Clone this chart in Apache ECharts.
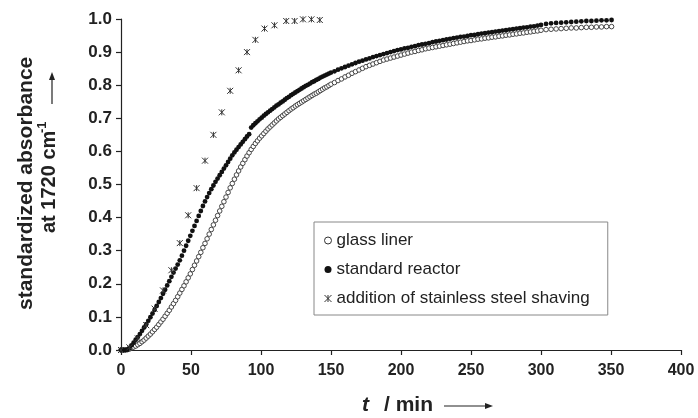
<!DOCTYPE html>
<html>
<head>
<meta charset="utf-8">
<script src="https://cdn.jsdelivr.net/npm/echarts@6/dist/echarts.min.js"></script>
<style>
  html, body { margin: 0; padding: 0; background: #fff; }
  #chart { width: 698px; height: 418px; }
</style>
</head>
<body>
<div id="chart"></div>
<script>
// ---- data ----
const time = [
  0,1.5,3,4.5,6,7.5,9,10.5,12,13.5,
  15,16.5,18,19.5,21,22.5,24,25.5,27,28.5,
  30,31.5,33,34.5,36,37.5,39,40.5,42,43.5,
  45,46.5,48,49.5,51,52.5,54,55.5,57,58.5,
  60,61.5,63,64.5,66,67.5,69,70.5,72,73.5,
  75,76.5,78,79.5,81,82.5,84,85.5,87,88.5,
  90,91.5,93,94.5,96,97.5,99,100.5,102,103.5,
  105,106.5,108,109.5,111,112.5,114,115.5,117,118.5,
  120,121.5,123,124.5,126,127.5,129,130.5,132,133.5,
  135,136.5,138,139.5,141,142.5,144,145.5,147,148.5,
  150,152.5,155,157.5,160,162.5,165,167.5,170,172.5,
  175,177.5,180,182.5,185,187.5,190,192.5,195,197.5,
  200,202.5,205,207.5,210,212.5,215,217.5,220,222.5,
  225,227.5,230,232.5,235,237.5,240,242.5,245,247.5,
  250,252.5,255,257.5,260,262.5,265,267.5,270,272.5,
  275,277.5,280,282.5,285,287.5,290,292.5,295,297.5,
  300,303.6,307.2,310.8,314.4,318,321.6,325.2,328.8,332.4,
  336,339.6,343.2,346.8,350.4
];
const glassLiner = [
  0,0,0,0.001,0.003,0.006,0.009,0.012,0.016,0.020,
  0.025,0.030,0.036,0.042,0.048,0.055,0.062,0.069,0.077,0.085,
  0.093,0.102,0.111,0.120,0.130,0.140,0.150,0.161,0.172,0.183,
  0.194,0.206,0.218,0.230,0.243,0.256,0.269,0.282,0.295,0.309,
  0.322,0.336,0.350,0.364,0.378,0.392,0.406,0.420,0.434,0.448,
  0.462,0.476,0.490,0.503,0.516,0.529,0.541,0.553,0.564,0.575,
  0.586,0.596,0.606,0.615,0.624,0.632,0.640,0.647,0.654,0.661,
  0.668,0.674,0.680,0.686,0.692,0.698,0.703,0.708,0.713,0.718,
  0.723,0.728,0.732,0.737,0.741,0.745,0.749,0.753,0.757,0.761,
  0.765,0.769,0.773,0.776,0.780,0.784,0.788,0.792,0.795,0.799,
  0.803,0.808,0.814,0.819,0.825,0.830,0.836,0.841,0.846,0.851,
  0.856,0.860,0.864,0.868,0.872,0.876,0.879,0.882,0.885,0.888,
  0.891,0.894,0.897,0.900,0.902,0.905,0.907,0.910,0.912,0.914,
  0.916,0.918,0.920,0.922,0.924,0.926,0.928,0.930,0.932,0.934,
  0.935,0.937,0.939,0.940,0.942,0.943,0.945,0.946,0.948,0.949,
  0.951,0.952,0.954,0.955,0.957,0.958,0.960,0.961,0.963,0.964,
  0.966,0.968,0.969,0.970,0.971,0.972,0.973,0.973,0.974,0.975,
  0.975,0.976,0.976,0.977,0.977
];
const standardReactor = [
  0,0,0,0.001,0.006,0.014,0.022,0.031,0.039,0.048,
  0.058,0.068,0.078,0.088,0.099,0.110,0.121,0.133,0.145,0.157,
  0.170,0.182,0.195,0.208,0.221,0.234,0.246,0.258,0.271,0.285,
  0.300,0.315,0.330,0.345,0.360,0.375,0.390,0.405,0.420,0.435,
  0.449,0.462,0.474,0.486,0.497,0.508,0.518,0.528,0.538,0.548,
  0.558,0.568,0.578,0.588,0.597,0.605,0.613,0.621,0.629,0.637,
  0.645,0.652,0.672,0.679,0.685,0.691,0.697,0.702,0.708,0.713,
  0.718,0.723,0.728,0.733,0.738,0.742,0.747,0.751,0.756,0.761,
  0.765,0.770,0.774,0.778,0.782,0.786,0.790,0.794,0.798,0.801,
  0.805,0.809,0.812,0.816,0.819,0.823,0.826,0.829,0.832,0.835,
  0.838,0.842,0.847,0.851,0.855,0.859,0.863,0.867,0.871,0.874,
  0.878,0.881,0.885,0.888,0.891,0.894,0.897,0.900,0.903,0.906,
  0.908,0.911,0.913,0.916,0.918,0.921,0.923,0.925,0.927,0.930,
  0.932,0.934,0.936,0.938,0.940,0.942,0.944,0.946,0.947,0.949,
  0.951,0.952,0.954,0.956,0.957,0.959,0.960,0.962,0.963,0.965,
  0.966,0.968,0.969,0.971,0.972,0.974,0.975,0.977,0.978,0.980,
  0.982,0.985,0.987,0.988,0.989,0.990,0.991,0.992,0.993,0.994,
  0.994,0.995,0.996,0.996,0.997
];
const steelTime = [0,6,12,18,24,30,36,42,48,54,60,66,72,78,84,90,96,102.5,109.6,118,124,130,136,142];
const steelShaving = [0,0.008,0.035,0.075,0.125,0.18,0.241,0.323,0.407,0.489,0.572,0.650,0.718,0.783,0.845,0.90,0.937,0.971,0.981,0.994,0.994,0.999,0.999,0.997];

const seriesNames = ['glass liner', 'standard reactor', 'addition of stainless steel shaving'];
const xAxisRange = { min: 0, max: 400, interval: 50 };
const yAxisRange = { min: 0, max: 1, interval: 0.1 };

// ---- build ----
function pairs(xs, ys) {
  const n = Math.min(xs.length, ys.length);
  const out = [];
  for (let i = 0; i < n; i++) out.push([xs[i], ys[i]]);
  return out;
}

const FONT = "'Liberation Sans', Arial, Helvetica, sans-serif";
const INK = '#222';
const starPath = 'path://M0,0L10,10M10,0L0,10M5,0L5,10';

const chart = echarts.init(document.getElementById('chart'), null, { renderer: 'canvas' });

const option = {
  backgroundColor: '#ffffff',
  animation: false,
  grid: { left: 121, right: 17, top: 19, bottom: 68, containLabel: false },
  xAxis: {
    type: 'value',
    min: xAxisRange.min, max: xAxisRange.max, interval: xAxisRange.interval,
    axisLine: { show: true, onZero: false, lineStyle: { color: INK, width: 1.2 } },
    axisTick: { show: true, inside: false, length: 5, lineStyle: { color: INK, width: 1.2 } },
    splitLine: { show: false },
    axisLabel: { margin: 13, color: INK, fontFamily: FONT, fontWeight: 'bold', fontSize: 16 }
  },
  yAxis: {
    type: 'value',
    min: yAxisRange.min, max: yAxisRange.max, interval: yAxisRange.interval,
    axisLine: { show: true, onZero: false, lineStyle: { color: INK, width: 1.2 } },
    axisTick: { show: true, inside: false, length: 5, lineStyle: { color: INK, width: 1.2 } },
    splitLine: { show: false },
    axisLabel: { margin: 9, color: INK, fontFamily: FONT, fontWeight: 'bold', fontSize: 17,
      formatter: v => v.toFixed(1) }
  },
  legend: {
    orient: 'vertical',
    left: 314, top: 222,
    padding: [10, 18, 8, 10],
    itemGap: 12,
    itemWidth: 7, itemHeight: 7,
    itemTextGap: 12,
    borderColor: '#888', borderWidth: 1,
    backgroundColor: '#fff',
    selectedMode: false,
    textStyle: { fontFamily: FONT, fontSize: 17, color: INK },
    data: [
      { name: seriesNames[0], icon: 'circle', itemStyle: { color: '#fff', borderColor: '#333', borderWidth: 1 } },
      { name: seriesNames[1], icon: 'circle', itemStyle: { color: '#111', borderWidth: 0 } },
      { name: seriesNames[2], icon: starPath, itemStyle: { color: 'rgba(0,0,0,0)', borderColor: '#333', borderWidth: 1 } }
    ]
  },
  series: [
    {
      name: seriesNames[0], type: 'scatter',
      data: pairs(time, glassLiner),
      symbol: 'circle', symbolSize: 4.6,
      itemStyle: { color: '#fff', borderColor: '#333', borderWidth: 0.9, opacity: 1 },
      emphasis: { disabled: true }
    },
    {
      name: seriesNames[1], type: 'scatter',
      data: pairs(time, standardReactor),
      symbol: 'circle', symbolSize: 4.8,
      itemStyle: { color: '#111', opacity: 1 },
      emphasis: { disabled: true }
    },
    {
      name: seriesNames[2], type: 'scatter',
      data: pairs(steelTime, steelShaving),
      symbol: starPath, symbolSize: 6,
      itemStyle: { color: 'rgba(0,0,0,0)', borderColor: '#333', borderWidth: 1, opacity: 1 },
      emphasis: { disabled: true }
    }
  ],
  graphic: [
    // y axis title, line 1
    { type: 'text', x: 26, y: 310, rotation: Math.PI / 2,
      style: { text: 'standardized absorbance', font: "bold 21px " + FONT, fill: INK,
        textAlign: 'left', textVerticalAlign: 'middle' } },
    // y axis title, line 2
    { type: 'text', x: 49, y: 233, rotation: Math.PI / 2,
      style: { text: 'at 1720 cm', font: "bold 20px " + FONT, fill: INK,
        textAlign: 'left', textVerticalAlign: 'middle' } },
    { type: 'text', x: 42, y: 133, rotation: Math.PI / 2,
      style: { text: '-1', font: "bold 13px " + FONT, fill: INK,
        textAlign: 'left', textVerticalAlign: 'middle' } },
    // y arrow
    { type: 'line', shape: { x1: 52, y1: 104, x2: 52, y2: 78 }, style: { stroke: INK, lineWidth: 1.2 } },
    { type: 'polygon', shape: { points: [[52, 72], [49, 80], [55, 80]] }, style: { fill: INK } },
    // x axis title
    { type: 'text', x: 362, y: 405,
      style: { text: 't', font: "italic bold 21px " + FONT, fill: INK,
        textAlign: 'left', textVerticalAlign: 'middle' } },
    { type: 'text', x: 384, y: 405,
      style: { text: '/ min', font: "bold 21px " + FONT, fill: INK,
        textAlign: 'left', textVerticalAlign: 'middle' } },
    // x arrow
    { type: 'line', shape: { x1: 444, y1: 406, x2: 486, y2: 406 }, style: { stroke: INK, lineWidth: 1.2 } },
    { type: 'polygon', shape: { points: [[493, 406], [485, 403], [485, 409]] }, style: { fill: INK } }
  ]
};

chart.setOption(option);
</script>
</body>
</html>
